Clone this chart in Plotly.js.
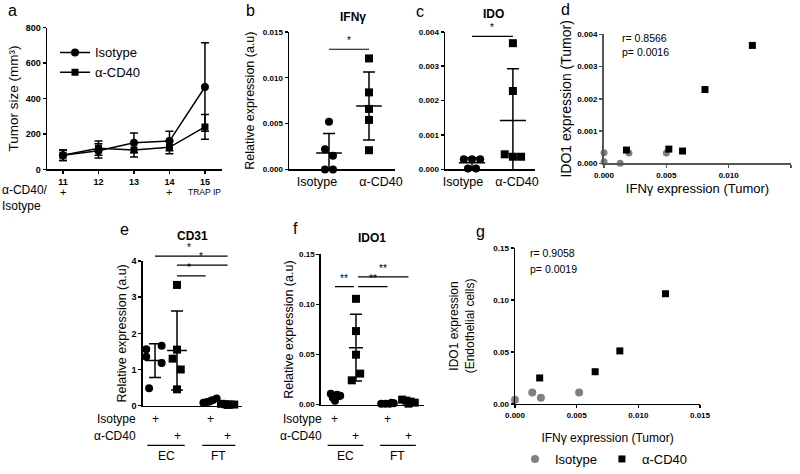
<!DOCTYPE html>
<html>
<head>
<meta charset="utf-8">
<script src="https://cdn.plot.ly/plotly-3.0.1.min.js"></script>
<style>
  body { margin: 0; background: #fff; }
  #chart { width: 800px; height: 474px; }
</style>
</head>
<body>
<div id="chart"></div>
<script>
// ---- data ----
// a: tumour growth
var days = [11, 12, 13, 14, 15];
var tumorIso = [80, 105, 150, 160, 465];
var tumorIsoSd = [30, 40, 55, 55, 250];
var tumorCd40 = [80, 120, 110, 125, 240];
var tumorCd40Sd = [30, 40, 40, 37, 70];
var treatDays = [11, 14];

// b: IFNg, c: IDO (tumour)
var ifngIso = [0.0052, 0.0022, 0.0015, 0, 0];
var ifngCd40 = [0.0121, 0.0084, 0.0066, 0.0054, 0.0021];
var idoIso = [0.0003, 0.0003, 0.0003, 0.00003, 0.00003];
var idoCd40 = [0.00367, 0.00228, 0.00044, 0.00037, 0.00037];

// d: IFNg vs IDO1 in tumour
var dIsoX = [0, 0, 0.0013, 0.002, 0.005];
var dIsoY = [0.00033, 0.00005, 0, 0.00032, 0.00032];
var dCd40X = [0.0119, 0.0081, 0.0063, 0.0052, 0.0018];
var dCd40Y = [0.00366, 0.00229, 0.00038, 0.00044, 0.00041];

// e: CD31, f: IDO1 (EC / FT)
var cd31EcIso = [1.56, 1.66, 1.35, 1.18, 0.48];
var cd31EcCd40 = [3.34, 1.55, 1.30, 1.0, 0.45];
var cd31FtIso = [0.2, 0.15, 0.1, 0.08, 0.12];
var cd31FtCd40 = [0.05, 0.04, 0.03, 0.03, 0.02];
var ido1EcIso = [0.011, 0.010, 0.009, 0.007, 0.004];
var ido1EcCd40 = [0.1057, 0.0735, 0.0499, 0.031, 0.0243];
var ido1FtIso = [0.001, 0.001, 0.001, 0.0015, 0.002];
var ido1FtCd40 = [0.005, 0.004, 0.003, 0.002, 0.001];

// g: IFNg (tumour) vs IDO1 (endothelial cells)
var gIsoX = [0, 0.0014, 0.0021, 0.0052];
var gIsoY = [0.004, 0.011, 0.006, 0.011];
var gCd40X = [0.0122, 0.0085, 0.0065, 0.002];
var gCd40Y = [0.106, 0.051, 0.031, 0.025];

var groupNames = ['Isotype', 'α-CD40'];
var cellGroups = ['EC', 'FT'];

// ---- helpers ----
var W = 800, H = 474;
var FONT = 'Liberation Sans, Arial, sans-serif';
var GRAY = '#808080';
function xd(l, r) { return [l / W, r / W]; }
function yd(t, b) { return [1 - b / H, 1 - t / H]; }
function py(p) { return 1 - p / H; }

function mean(a) { return a.reduce(function (s, v) { return s + v; }, 0) / a.length; }
function sd(a) {
  var m = mean(a);
  return Math.sqrt(a.reduce(function (s, v) { return s + (v - m) * (v - m); }, 0) / (a.length - 1));
}

function ax(extra) {
  var base = {
    showline: true, linecolor: '#000', linewidth: 1.5,
    ticks: 'outside', ticklen: 3, tickwidth: 1.5, tickcolor: '#000',
    showgrid: false, zeroline: false, fixedrange: true,
    tickfont: { family: FONT, size: 8, color: '#000', weight: 'bold' }
  };
  return Object.assign(base, extra);
}
function axTitle(text, standoff, size) {
  return { text: text, standoff: standoff, font: { family: FONT, size: size || 12.5, color: '#000' } };
}

// scatter of one group + mean line + SD bar
function dotGroup(vals, pos, jit, symbol, xa, ya, hw, cap) {
  var m = mean(vals), s = sd(vals);
  return [
    { x: [pos - hw, pos + hw], y: [m, m], mode: 'lines', xaxis: xa, yaxis: ya,
      line: { color: '#000', width: 1.5 }, showlegend: false, hoverinfo: 'skip' },
    { x: [pos], y: [m], mode: 'markers', xaxis: xa, yaxis: ya, showlegend: false,
      marker: { size: 1, color: 'rgba(0,0,0,0)' },
      error_y: { type: 'data', array: [s], color: '#000', thickness: 1.5, width: cap } },
    { x: vals.map(function (v, i) { return pos + jit[i]; }), y: vals, mode: 'markers',
      xaxis: xa, yaxis: ya, showlegend: false, cliponaxis: false,
      marker: { symbol: symbol, size: 8, color: '#000' } }
  ];
}

var traces = [];

// a
traces.push({
  x: days, y: tumorIso, name: 'Isotype', mode: 'lines+markers', xaxis: 'x', yaxis: 'y',
  legend: 'legend', line: { color: '#000', width: 1.5 },
  marker: { symbol: 'circle', size: 8, color: '#000' },
  error_y: { type: 'data', array: tumorIsoSd, color: '#000', thickness: 1.5, width: 4 }
});
traces.push({
  x: days, y: tumorCd40, name: 'α-CD40', mode: 'lines+markers', xaxis: 'x', yaxis: 'y',
  legend: 'legend', line: { color: '#000', width: 1.5 },
  marker: { symbol: 'square', size: 7, color: '#000' },
  error_y: { type: 'data', array: tumorCd40Sd, color: '#000', thickness: 1.5, width: 4 }
});

// b, c
traces = traces.concat(
  dotGroup(ifngIso, 0, [0, -0.1, 0.1, -0.1, 0.1], 'circle', 'x2', 'y2', 0.32, 6),
  dotGroup(ifngCd40, 1, [0, 0, 0, 0, 0], 'square', 'x2', 'y2', 0.32, 6),
  dotGroup(idoIso, 0, [-0.2, 0, 0.2, -0.1, 0.1], 'circle', 'x3', 'y3', 0.32, 6),
  dotGroup(idoCd40, 1, [0, 0, -0.2, 0, 0.2], 'square', 'x3', 'y3', 0.32, 6)
);

// d
traces.push({ x: dIsoX, y: dIsoY, mode: 'markers', xaxis: 'x4', yaxis: 'y4', showlegend: false,
  cliponaxis: false, marker: { symbol: 'circle', size: 7, color: GRAY } });
traces.push({ x: dCd40X, y: dCd40Y, mode: 'markers', xaxis: 'x4', yaxis: 'y4', showlegend: false,
  cliponaxis: false, marker: { symbol: 'square', size: 7, color: '#000' } });

// e, f  (group positions: EC iso, EC cd40, FT iso, FT cd40)
var posE = [0, 1, 2.5, 3.3];
var posF = [0, 1, 2.5, 3.5];
traces = traces.concat(
  dotGroup(cd31EcIso, posE[0], [-0.4, 0.3, -0.4, 0.3, -0.27], 'circle', 'x5', 'y5', 0.45, 6),
  dotGroup(cd31EcCd40, posE[1], [0, 0, -0.2, 0.17, 0], 'square', 'x5', 'y5', 0.45, 6),
  dotGroup(cd31FtIso, posE[2], [0.3, 0.1, -0.1, -0.3, 0], 'circle', 'x5', 'y5', 0.45, 6),
  dotGroup(cd31FtCd40, posE[3], [-0.3, -0.1, 0.1, 0.3, 0], 'square', 'x5', 'y5', 0.45, 6),
  dotGroup(ido1EcIso, posF[0], [-0.2, 0.1, 0.25, -0.1, 0], 'circle', 'x6', 'y6', 0.33, 6),
  dotGroup(ido1EcCd40, posF[1], [0, 0, 0, 0.2, -0.2], 'square', 'x6', 'y6', 0.33, 6),
  dotGroup(ido1FtIso, posF[2], [-0.3, -0.1, 0.1, 0.3, 0.2], 'circle', 'x6', 'y6', 0.33, 6),
  dotGroup(ido1FtCd40, posF[3], [-0.3, -0.1, 0.1, 0.3, 0], 'square', 'x6', 'y6', 0.33, 6)
);

// g
traces.push({ x: gIsoX, y: gIsoY, name: 'Isotype', mode: 'markers', xaxis: 'x7', yaxis: 'y7',
  legend: 'legend2', cliponaxis: false, marker: { symbol: 'circle', size: 8, color: GRAY } });
traces.push({ x: gCd40X, y: gCd40Y, name: 'α-CD40', mode: 'markers', xaxis: 'x7', yaxis: 'y7',
  legend: 'legend2', cliponaxis: false, marker: { symbol: 'square', size: 7, color: '#000' } });

// ---- annotations and shapes ----
var ann = [];
var shapes = [];
function text(t, x, y, opts) {
  ann.push(Object.assign({ text: t, x: x, y: y, xref: 'paper', yref: 'paper', showarrow: false,
    xanchor: 'center', yanchor: 'middle', font: { family: FONT, size: 12, color: '#000' } }, opts || {}));
}
function bracket(xa, x0, x1, p, star, sx) {
  shapes.push({ type: 'line', xref: xa, yref: 'paper', x0: x0, x1: x1, y0: py(p), y1: py(p),
    line: { color: '#000', width: 1.2 } });
  text(star, sx === undefined ? (x0 + x1) / 2 : sx, py(p - 1), { xref: xa, yanchor: 'bottom',
    font: { family: FONT, size: 10, color: '#000' } });
}

// panel letters
[['a', 12, 11], ['b', 250, 11], ['c', 420, 12], ['d', 565, 10],
 ['e', 124, 233], ['f', 295, 232], ['g', 480, 235]].forEach(function (l) {
  text(l[0], l[1] / W, py(l[2]), { font: { family: FONT, size: 16, color: '#000' } });
});
// panel titles
var boldT = { family: FONT, size: 12, color: '#000', weight: 'bold' };
text('IFNγ', 353 / W, py(17), { font: boldT });
text('IDO', 493 / W, py(14), { font: boldT });
text('CD31', 192 / W, py(240), { font: boldT });
text('IDO1', 372 / W, py(242), { font: boldT });

// a treatment rows
text('α-CD40/', 0, py(193), { xanchor: 'left' });
text('Isotype', 0, py(209), { xanchor: 'left' });
treatDays.forEach(function (d) {
  text('+', d, py(195), { xref: 'x', font: { family: FONT, size: 11, color: '#000' } });
});
text('TRAP IP', days[4], py(195), { xref: 'x', font: { family: FONT, size: 8.5, color: '#000' } });

// significance brackets
bracket('x2', 0, 1, 50, '*');
bracket('x3', 0, 1, 37, '*');
bracket('x5', posE[0], posE[3], 260, '*', 1.55);
bracket('x5', posE[1], posE[3], 269, '*', 2.1);
bracket('x5', posE[1], posE[2] - 0.2, 280, '*', 1.55);
bracket('x6', posF[0], posF[1] - 0.1, 291, '**');
bracket('x6', posF[1] + 0.1, posF[2], 291, '**');
bracket('x6', posF[1] + 0.1, posF[3], 281, '**');

// e / f group rows
function groupRows(xa, pos, labelRight) {
  text(groupNames[0], labelRight / W, py(425), { xanchor: 'right' });
  text(groupNames[1], labelRight / W, py(443), { xanchor: 'right' });
  text('+', pos[0], py(425), { xref: xa });
  text('+', pos[2], py(425), { xref: xa });
  text('+', pos[1], py(443), { xref: xa });
  text('+', pos[3], py(443), { xref: xa });
  [[pos[0], pos[1]], [pos[2], pos[3]]].forEach(function (g, i) {
    shapes.push({ type: 'line', xref: xa, yref: 'paper', x0: g[0] - 0.35, x1: g[1] + 0.35,
      y0: py(452), y1: py(452), line: { color: '#000', width: 1.2 } });
    text(cellGroups[i], (g[0] + g[1]) / 2, py(463), { xref: xa });
  });
}
groupRows('x5', posE, 138);
groupRows('x6', posF, 324);

// r / p values
var small = { family: FONT, size: 10.5, color: '#000' };
text('r= 0.8566', 620 / W, py(39), { xanchor: 'left', font: small });
text('p= 0.0016', 620 / W, py(53), { xanchor: 'left', font: small });
text('r= 0.9058', 528 / W, py(257), { xanchor: 'left', font: small });
text('p= 0.0019', 528 / W, py(273), { xanchor: 'left', font: small });

var catFont = { family: FONT, size: 12.5, color: '#000' };
var layout = {
  width: W, height: H,
  margin: { l: 0, r: 0, t: 0, b: 0 },
  paper_bgcolor: '#fff', plot_bgcolor: 'rgba(0,0,0,0)',
  font: { family: FONT, color: '#000' },
  showlegend: true,
  legend: { x: 55 / W, y: py(38), xanchor: 'left', yanchor: 'top', bgcolor: 'rgba(0,0,0,0)',
    font: { family: FONT, size: 13, color: '#000' }, tracegroupgap: 0, itemwidth: 30 },
  legend2: { x: 515 / W, y: py(466), xanchor: 'left', yanchor: 'middle', orientation: 'h',
    bgcolor: 'rgba(0,0,0,0)', font: { family: FONT, size: 13, color: '#000' }, itemwidth: 30 },

  xaxis: ax({ domain: xd(47, 222), anchor: 'y', range: [10.55, 15.48], tickvals: days,
    tickfont: { family: FONT, size: 9, color: '#000', weight: 'bold' } }),
  yaxis: ax({ domain: yd(28, 172), anchor: 'x', range: [0, 800], dtick: 200,
    tickfont: { family: FONT, size: 9, color: '#000', weight: 'bold' },
    title: axTitle('Tumor size (mm³)', 4, 13.5) }),

  xaxis2: ax({ domain: xd(289, 395), anchor: 'y2', range: [-1, 1.65], ticks: '',
    tickvals: [-0.3, 1.3], ticktext: groupNames, tickfont: catFont }),
  yaxis2: ax({ domain: yd(32.3, 172), anchor: 'x2', range: [0, 0.015], dtick: 0.005,
    tickformat: '.3f', title: axTitle('Relative expression (a.u)', 5) }),

  xaxis3: ax({ domain: xd(445, 535), anchor: 'y3', range: [-0.66, 1.54], ticks: '',
    tickvals: [-0.22, 1.1], ticktext: groupNames, tickfont: catFont }),
  yaxis3: ax({ domain: yd(32.3, 172), anchor: 'x3', range: [0, 0.004], dtick: 0.001,
    tickformat: '.3f' }),

  xaxis4: ax({ domain: xd(604, 791), anchor: 'y4', range: [0, 0.015], dtick: 0.005,
    tickformat: '.3f', linecolor: '#555', linewidth: 2, tickcolor: '#555',
    title: axTitle('IFNγ expression (Tumor)', 5, 13) }),
  yaxis4: ax({ domain: yd(35, 165.7), anchor: 'x4', range: [0, 0.004], dtick: 0.001,
    tickformat: '.3f', linecolor: '#555', linewidth: 2, tickcolor: '#555',
    title: axTitle('IDO1 expression (Tumor)', 2, 14) }),

  xaxis5: ax({ domain: xd(142.7, 241.7), anchor: 'y5', range: [-0.56, 3.94], ticks: '',
    showticklabels: false }),
  yaxis5: ax({ domain: yd(265, 411.7), anchor: 'x5', range: [0, 4], dtick: 1,
    tickfont: { family: FONT, size: 9, color: '#000', weight: 'bold' },
    title: axTitle('Relative expression (a.u)', 2) }),

  xaxis6: ax({ domain: xd(320.7, 424), anchor: 'y6', range: [-0.68, 4.24], ticks: '',
    showticklabels: false }),
  yaxis6: ax({ domain: yd(258.3, 410.7), anchor: 'x6', range: [0, 0.15], dtick: 0.05,
    tickformat: '.2f', title: axTitle('Relative expression (a.u)', 2) }),

  xaxis7: ax({ domain: xd(515, 700), anchor: 'y7', range: [0, 0.015], dtick: 0.005,
    tickformat: '.3f', title: axTitle('IFNγ expression (Tumor)', 14, 12) }),
  yaxis7: ax({ domain: yd(251.7, 410), anchor: 'x7', range: [0, 0.15], dtick: 0.05,
    tickformat: '.2f', title: axTitle('IDO1 expression<br>(Endothelial cells)', 16, 12) }),

  annotations: ann,
  shapes: shapes
};

Plotly.newPlot('chart', traces, layout, { displayModeBar: false, staticPlot: true });
</script>
</body>
</html>
